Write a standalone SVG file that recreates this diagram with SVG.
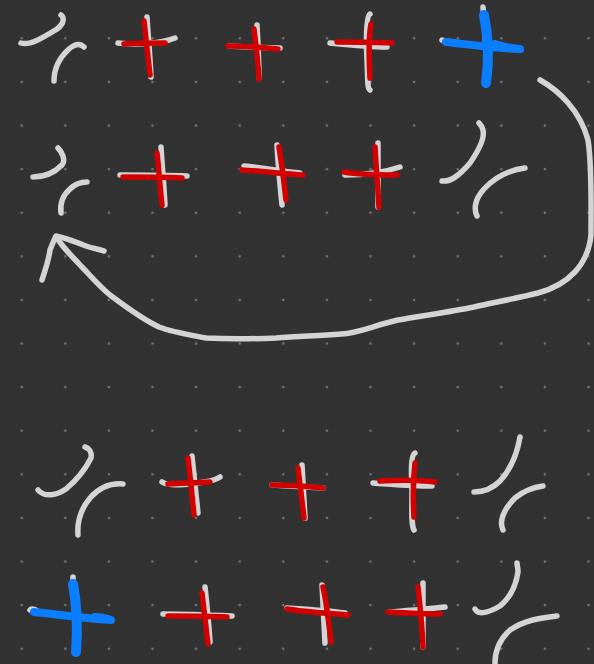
<svg xmlns="http://www.w3.org/2000/svg" width="594" height="664" viewBox="0 0 594 664">
<defs>
<pattern id="dots" x="0" y="0" width="43.6" height="43.6" patternUnits="userSpaceOnUse" patternTransform="translate(21.7 38.3)">
<circle cx="0" cy="0" r="1.3" fill="#767676"/>
<circle cx="43.6" cy="0" r="1.3" fill="#767676"/>
<circle cx="0" cy="43.6" r="1.3" fill="#767676"/>
<circle cx="43.6" cy="43.6" r="1.3" fill="#767676"/>
</pattern>
</defs>
<style>
.w{fill:none;stroke:#d4d4d4;stroke-width:5.5;stroke-linecap:round;stroke-linejoin:round}
.r{fill:none;stroke:#d20000;stroke-width:5.5;stroke-linecap:round;stroke-linejoin:round}
.b{fill:none;stroke:#0a7eff;stroke-width:8;stroke-linecap:round;stroke-linejoin:round}
.bt{fill:none;stroke:#0a7eff;stroke-width:10;stroke-linecap:round;stroke-linejoin:round}
</style>
<rect width="594" height="664" fill="#323232"/>
<rect width="594" height="664" fill="url(#dots)"/>

<g id="connectors">
<path class="w" d="M540,80 C558,90 580,110 588,140 C592,165 591,200 591,235 C588,265 568,285 538,293 C510,300 490,303 474,307 C450,312 420,316 398,320 C375,325 360,333 341,334 C320,336 300,336 276,338 C250,339 225,339 206,338 C185,334 172,332 159,327 C140,318 125,306 110,295 C98,285 90,275 81,266 C72,256 63,248 57,238"/>
<path class="w" d="M42,280 C46,268 49,258 50,250 C52,245 54,240 56,236 C66,238 76,242 86,246 C94,249 100,249 104,251"/>
</g>

<g id="node1">
<path class="w" d="M21,43 C30,46 44,37 57,29 C65,23 64,17 61,15"/>
<path class="w" d="M54,81 C54,70 58,59 69,49 C76,43 81,44 84,47"/>
</g>
<g id="node2">
<path class="w" d="M118,43 C135,45 160,44 175,38"/>
<path class="w" d="M147,17 C148,35 150,55 151,77"/>
<path class="r" d="M124,44 C140,43 155,43 165,43"/>
<path class="r" d="M144,21 C146,38 148,58 150,75"/>
</g>
<g id="node3">
<path class="w" d="M257,25 C258,45 259,62 259,78"/>
<path class="w" d="M229,46 C245,47 265,48 280,48"/>
<path class="r" d="M254,29 C256,45 258,62 259,79"/>
<path class="r" d="M228,46 C245,46 265,48 278,49"/>
</g>
<g id="node4">
<path class="w" d="M370,14 C366,16 366,40 367,60 C368,78 367,88 370,90"/>
<path class="w" d="M330,43 C350,45 370,47 387,47"/>
<path class="r" d="M371,24 C368,40 369,60 370,78"/>
<path class="r" d="M337,42 C355,42 375,42 392,43"/>
</g>
<g id="node5">
<path class="w" d="M442,40 C446,42 450,42 455,42"/>
<path class="w" d="M483,7 C484,20 485,30 485,40"/>
<path class="b" d="M446,42 C465,44 490,48 520,49 C510,48 500,46 495,44"/>
<path class="bt" d="M484,15 C488,35 490,55 486,83"/>
</g>

<g id="node6">
<path class="w" d="M33,177 C45,177 55,172 62,165 C66,160 62,152 58,148"/>
<path class="w" d="M61,213 C60,205 62,196 70,189 C76,183 82,182 87,182"/>
</g>
<g id="node7">
<path class="w" d="M120,175 C140,175 165,175 187,176"/>
<path class="w" d="M161,147 C162,165 164,185 165,205"/>
<path class="r" d="M123,177 C140,177 160,177 182,178"/>
<path class="r" d="M157,153 C159,170 160,188 162,205"/>
</g>
<g id="node8">
<path class="w" d="M244,166 C265,168 285,172 300,173"/>
<path class="w" d="M277,145 C278,165 280,185 282,205"/>
<path class="r" d="M242,170 C260,171 285,174 303,175"/>
<path class="r" d="M279,147 C282,165 284,180 286,200"/>
</g>
<g id="node9">
<path class="w" d="M345,175 C365,175 385,172 400,167"/>
<path class="w" d="M378,143 C378,165 378,190 378,207"/>
<path class="r" d="M344,172 C360,175 380,175 397,175"/>
<path class="r" d="M375,147 C376,165 378,190 379,207"/>
</g>
<g id="node10">
<path class="w" d="M442,181 C450,182 458,177 470,163 C479,150 485,138 483,130 C482,126 480,124 479,123"/>
<path class="w" d="M477,216 C474,210 474,200 484,189 C495,177 510,170 525,168"/>
</g>

<g id="node11">
<path class="w" d="M38,490 C45,498 57,495 66,489 C78,479 86,468 91,458 C92,452 89,448 85,447"/>
<path class="w" d="M78,535 C77,522 80,510 90,498 C100,487 112,483 123,484"/>
</g>
<g id="node12">
<path class="w" d="M162,482 C170,487 190,484 205,482 C212,481 217,479 220,477"/>
<path class="w" d="M192,456 C194,475 196,495 198,513"/>
<path class="r" d="M168,484 C180,483 195,483 210,482"/>
<path class="r" d="M188,458 C190,475 192,495 194,515"/>
</g>
<g id="node13">
<path class="w" d="M272,485 C290,486 305,487 323,488"/>
<path class="w" d="M302,465 C303,485 304,500 305,518"/>
<path class="r" d="M272,485 C290,485 305,486 323,488"/>
<path class="r" d="M298,468 C300,485 302,500 304,518"/>
</g>
<g id="node14">
<path class="w" d="M373,483 C390,484 410,486 432,486"/>
<path class="w" d="M415,453 C411,455 411,470 412,490 C412,510 411,525 414,530"/>
<path class="r" d="M380,481 C400,480 420,480 435,482"/>
<path class="r" d="M415,463 C413,480 413,500 414,517"/>
</g>
<g id="node15">
<path class="w" d="M474,492 C480,492 490,491 500,481 C510,470 517,455 520,437"/>
<path class="w" d="M503,530 C499,522 503,510 515,498 C525,490 535,487 543,486"/>
</g>

<g id="node16">
<path class="w" d="M30,610 C31,608 33,609 36,610"/>
<path class="w" d="M73,577 C73,580 73,583 73,586"/>
<path class="b" d="M34,612 C55,614 80,618 111,620 C105,618 100,617 95,617"/>
<path class="bt" d="M73,584 C76,600 78,625 76,652"/>
</g>
<g id="node17">
<path class="w" d="M163,614 C185,614 210,615 232,616"/>
<path class="w" d="M205,587 C207,605 209,625 210,642"/>
<path class="r" d="M168,616 C190,616 210,616 227,617"/>
<path class="r" d="M202,593 C204,610 206,628 208,644"/>
</g>
<g id="node18">
<path class="w" d="M287,608 C305,609 325,610 345,613"/>
<path class="w" d="M322,585 C323,605 324,625 325,643"/>
<path class="r" d="M287,609 C305,612 325,613 348,615"/>
<path class="r" d="M323,587 C327,605 329,625 331,642"/>
</g>
<g id="node19">
<path class="w" d="M390,612 C410,610 430,609 445,607"/>
<path class="w" d="M423,583 C423,605 423,625 423,647"/>
<path class="r" d="M388,612 C405,613 425,614 440,614"/>
<path class="r" d="M418,587 C420,605 422,625 423,647"/>
</g>
<g id="node20">
<path class="w" d="M475,609 C478,616 490,612 500,606 C510,598 516,585 518,572 C518,568 517,565 517,563"/>
<path class="w" d="M495,663 C495,652 499,640 510,630 C525,620 540,618 557,616"/>
</g>
</svg>
